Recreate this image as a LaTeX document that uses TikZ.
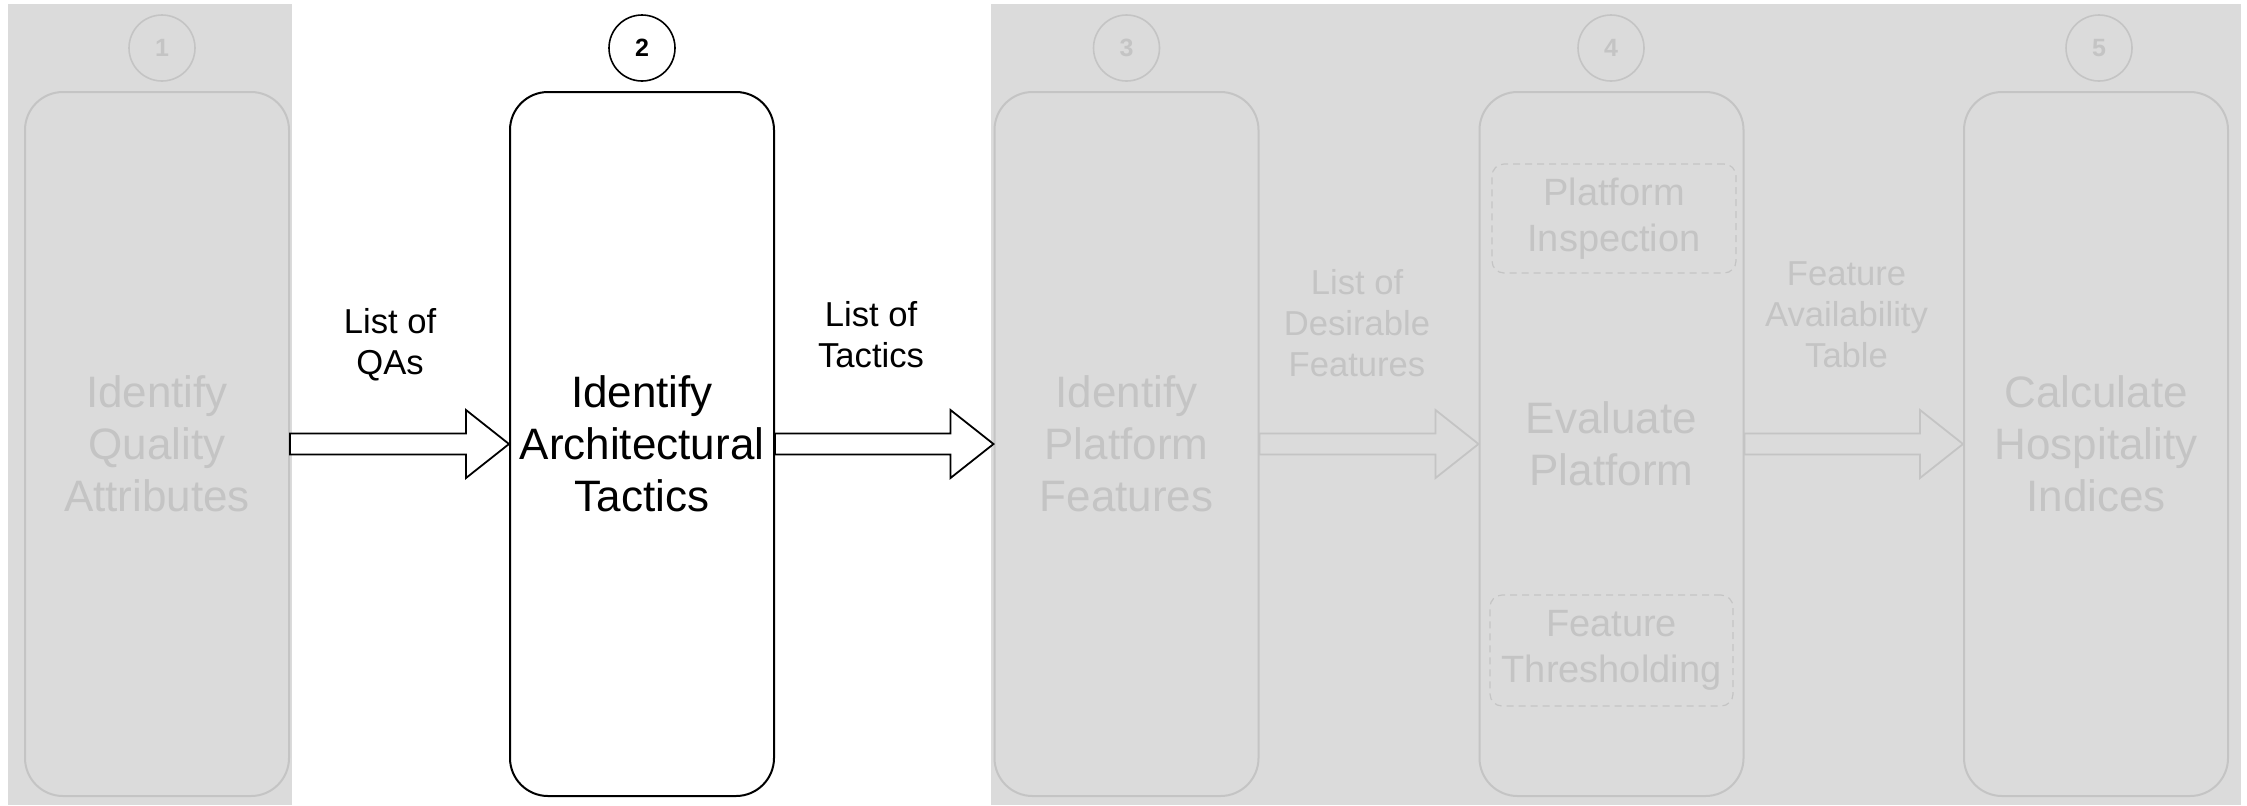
\documentclass[tikz,border=0pt]{standalone}
\usepackage{fontspec}
\setmainfont{Liberation Sans}
\usetikzlibrary{calc}
\definecolor{panelgrey}{RGB}{219,219,219}
\definecolor{fadegrey}{RGB}{196,196,196}
\tikzset{
  stage/.style={draw, line width=1pt, rounded corners=19pt, minimum width=132pt,
    minimum height=352pt, inner sep=0pt, align=center,
    font=\fontsize{22}{26}\selectfont},
  stepnum/.style={draw, circle, line width=0.8pt, minimum size=33pt, inner sep=0pt,
    font=\fontsize{12.5}{14}\selectfont\bfseries},
  subtask/.style={draw, dashed, dash pattern=on 3.5pt off 2.5pt, line width=0.6pt,
    rounded corners=6pt, minimum width=122pt, minimum height=55pt, inner sep=0pt,
    align=center, font=\fontsize{19}{23}\selectfont},
  flowlabel/.style={align=center, font=\fontsize{17.3}{20.5}\selectfont},
  faded/.style={draw=fadegrey, text=fadegrey},
  active/.style={draw=black, text=black, fill=white},
  blockarrow/.style={line width=0.9pt, line join=miter}
}
% block arrow from the east side of #2 to the west side of #3
\newcommand\flowarrow[3]{%
  \draw[blockarrow,#1] ($(#2.east)+(0,-10.5)$) -- ($(#3.west)+(-43,-10.5)$)
    -- ($(#3.west)+(-43,-34)$) -- (#3.west) -- ($(#3.west)+(-43,34)$)
    -- ($(#3.west)+(-43,10.5)$) -- ($(#2.east)+(0,10.5)$) -- cycle;}
\begin{document}
\begin{tikzpicture}[x=0.5pt, y=-0.5pt]
\useasboundingbox (0,0) rectangle (2247,805);
\fill[white] (0,0) rectangle (2247,805);
% shaded panels behind the inactive stages
\fill[panelgrey] (8,4) rectangle (292,805);
\fill[panelgrey] (991,4) rectangle (2241,805);

% stages
\node[stage, faded] (s1) at (157,444) {Identify\\Quality\\Attributes};
\node[stage, active] (s2) at (642,444) {Identify\\Architectural\\Tactics};
\node[stage, faded] (s3) at (1126.5,444) {Identify\\Platform\\Features};
\node[stage, faded] (s4) at (1611.5,444) {Evaluate\\Platform};
\node[stage, faded] (s5) at (2096,444) {Calculate\\Hospitality\\Indices};

% step numbers
\node[stepnum, faded] (n1) at (162,48) {1};
\node[stepnum, active] (n2) at (642,48) {2};
\node[stepnum, faded] (n3) at (1126.5,48) {3};
\node[stepnum, faded] (n4) at (1611,48) {4};
\node[stepnum, faded] (n5) at (2099,48) {5};

% sub-tasks of the evaluation stage
\node[subtask, faded, minimum width=122pt, minimum height=54.5pt] (insp) at (1614,218.5) {Platform\\Inspection};
\node[subtask, faded, minimum width=121.5pt, minimum height=55.5pt] (thr) at (1611.5,650.5) {Feature\\Thresholding};

% data flow between stages
\flowarrow{draw=black, fill=white}{s1}{s2}
\flowarrow{draw=black, fill=white}{s2}{s3}
\flowarrow{draw=fadegrey, fill=panelgrey}{s3}{s4}
\flowarrow{draw=fadegrey, fill=panelgrey}{s4}{s5}

% flow labels
\node[flowlabel] (l12) at (390,344.5) {List of\\QAs};
\node[flowlabel] (l23) at (871,335) {List of\\Tactics};
\node[flowlabel, text=fadegrey] (l34) at (1357,323) {List of\\Desirable\\Features};
\node[flowlabel, text=fadegrey] (l45) at (1846.5,315) {Feature\\Availability\\Table};
\end{tikzpicture}
\end{document}
